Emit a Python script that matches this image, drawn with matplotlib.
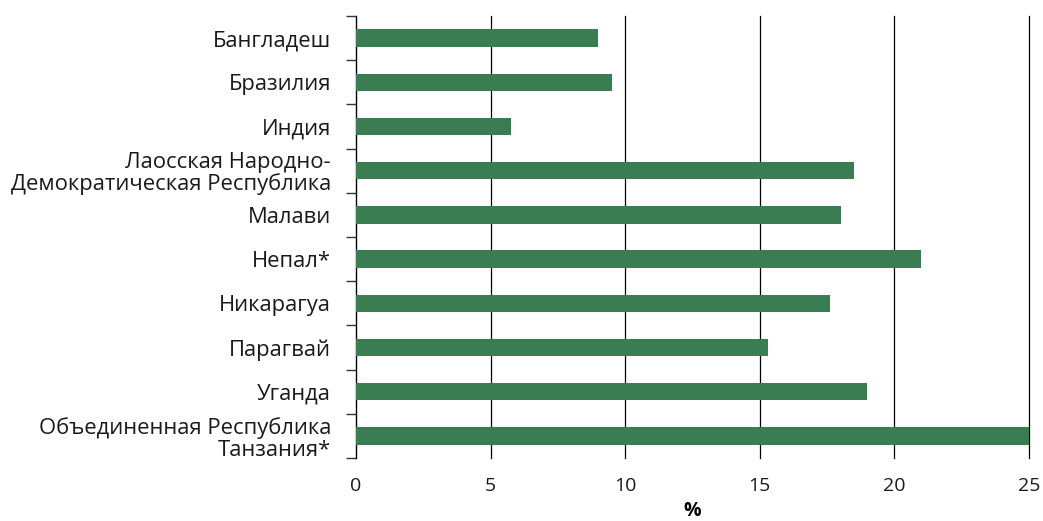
import matplotlib
matplotlib.use("Agg")
import matplotlib.pyplot as plt
import numpy as np

plt.rcParams["font.family"] = ["Open Sans", "DejaVu Sans"]

# data
countries = [
    "Бангладеш",
    "Бразилия",
    "Индия",
    "Лаосская Народно-\nДемократическая Республика",
    "Малави",
    "Непал*",
    "Никарагуа",
    "Парагвай",
    "Уганда",
    "Объединенная Республика\nТанзания*",
]
values = [9.0, 9.5, 5.75, 18.5, 18.0, 21.0, 17.6, 15.3, 19.0, 25.0]
xticks = [0, 5, 10, 15, 20, 25]

bar_color = "#3b7d52"

fig = plt.figure(figsize=(10.43, 5.21), dpi=100)
ax = fig.add_axes([0.3413, 0.1209, 0.6453, 0.8484])

y = np.arange(len(countries))
ax.barh(y, values, height=0.39, color=bar_color, zorder=3)

ax.set_xlim(0, 25)
ax.set_ylim(len(countries) - 0.5, -0.5)

# vertical gridlines
for xv in xticks[1:]:
    ax.axvline(xv, color="black", linewidth=0.9, zorder=1, clip_on=False)

ax.set_yticks(y)
ax.set_yticklabels(countries, fontsize=15.8, color="#1a1a1a", linespacing=1.05)
ax.tick_params(axis="y", which="major", length=0, pad=18)
ax.set_yticks(np.arange(len(countries) + 1) - 0.5, minor=True)
ax.tick_params(axis="y", which="minor", length=7, width=1.0, color="#333333")

ax.set_xticks(xticks)
ax.set_xticklabels([str(v) for v in xticks], fontsize=14, color="#1a1a1a")
ax.tick_params(axis="x", length=0, pad=14)
ax.set_xlabel("%", fontsize=14, fontweight="bold", labelpad=4)

for s in ["top", "right", "bottom"]:
    ax.spines[s].set_visible(False)
ax.spines["left"].set_color("black")
ax.spines["left"].set_linewidth(1.0)

fig.savefig("out.png", dpi=100, facecolor="white")
